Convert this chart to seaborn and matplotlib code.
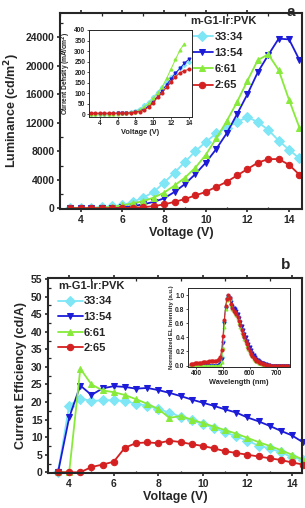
import numpy as np
import pandas as pd
import seaborn as sns
import matplotlib.pyplot as plt
from matplotlib.ticker import MultipleLocator

sns.set_style('ticks')
plt.rcParams['font.family'] = ['Liberation Sans', 'DejaVu Sans']
plt.rcParams['font.weight'] = 'bold'
plt.rcParams['axes.labelweight'] = 'bold'

# ================== data ==================
ratios = ['33:34', '13:54', '6:61', '2:65']
colors = ['#7fe6f6', '#1c1cd8', '#88ea3a', '#d42020']
markers = ['D', 'v', '^', 'o']

# panel a: luminance vs voltage
volt = np.arange(3.5, 14.51, 0.5)
lum_3334 = [50, 60, 80, 120, 250, 450, 900, 1500, 2300, 3600, 5000, 6500, 8000,
            9300, 10500, 11300, 12100, 12800, 12100, 11000, 9500, 8200, 7000]
lum_1354 = [20, 30, 40, 50, 80, 150, 300, 550, 900, 1400, 2300, 3400, 4800,
            6400, 8300, 10500, 13200, 16000, 19100, 21500, 23800, 23700, 20800]
lum_661 = [20, 40, 60, 100, 200, 400, 700, 1000, 1500, 2200, 3200, 4300, 5700,
           7500, 9800, 12200, 14900, 17900, 20800, 21600, 19400, 15200, 11300]
lum_265 = [10, 10, 15, 20, 25, 40, 80, 150, 300, 550, 900, 1300, 1800,
           2300, 3000, 3700, 4600, 5500, 6400, 6900, 6900, 6100, 4700]

# inset a: current density vs voltage
volt_j = np.arange(3.0, 14.01, 0.5)
j_3334 = [3, 3, 3, 3, 3, 4, 4, 5, 7, 11, 17, 27, 42, 60, 82, 106, 130, 155, 178, 198, 218, 235, 250]
j_1354 = [3, 3, 3, 3, 3, 3, 4, 4, 5, 7, 10, 16, 25, 40, 60, 85, 112, 140, 168, 195, 218, 242, 262]
j_661 = [2, 2, 2, 2, 2, 3, 3, 4, 6, 9, 13, 21, 35, 52, 75, 100, 130, 170, 215, 260, 305, 335]
j_265 = [5, 5, 5, 5, 5, 5, 5, 5, 6, 7, 9, 13, 20, 35, 55, 80, 103, 128, 153, 178, 197, 207, 213]

# panel b: current efficiency vs voltage
ce_3334 = [0, 19, 21, 20.3, 20.5, 20.5, 20.3, 19.5, 19, 18, 17, 15.8, 14.8,
           13.7, 12.6, 11.4, 10.2, 9, 7.6, 6.8, 5.7, 4.3, 3.6]
ce_1354 = [0, 15.6, 24.7, 22, 23.9, 24.5, 24.3, 23.8, 24, 23.4, 22.6, 21.7, 20.7,
           19.8, 18.9, 17.9, 17, 15.6, 14.5, 13.2, 11.8, 10.5, 8.5]
ce_661 = [0, 0, 29.5, 25, 23.3, 22.8, 22, 20.8, 19.5, 18, 15.5, 16, 15,
          14, 13, 12, 11, 9.8, 8.6, 7.5, 6.3, 5, 3.6]
ce_265 = [0, 0, 0, 1.5, 2.2, 3, 7, 8.3, 8.5, 8.3, 9, 8.6, 8,
          7.5, 6.8, 6, 5.5, 5, 4.5, 4, 3.5, 2.8, 2.2]

# inset b: normalized EL spectra (5 nm steps from 380 nm)
el_3334 = [0.0] * 21 + [0.01, 0.03, 0.12, 0.35, 0.62, 0.83, 0.95, 0.99, 0.95, 0.88,
                        0.83, 0.80, 0.78, 0.74, 0.70, 0.64, 0.58, 0.52, 0.46, 0.41,
                        0.36, 0.31, 0.26, 0.22, 0.18, 0.15, 0.12, 0.10, 0.08, 0.06,
                        0.05, 0.04, 0.03, 0.02, 0.02, 0.01, 0.01] + [0.0] * 16
el_1354 = [0.0] * 21 + [0.01, 0.02, 0.10, 0.32, 0.60, 0.82, 0.94, 0.98, 0.96, 0.90,
                        0.85, 0.82, 0.80, 0.77, 0.73, 0.68, 0.62, 0.56, 0.50, 0.45,
                        0.40, 0.35, 0.30, 0.26, 0.22, 0.18, 0.15, 0.12, 0.10, 0.08,
                        0.06, 0.05, 0.04, 0.03, 0.02, 0.02, 0.01, 0.01] + [0.0] * 15
el_661 = [0.0] * 21 + [0.0, 0.01, 0.05, 0.25, 0.55, 0.80, 0.93, 0.98, 0.94, 0.86,
                       0.80, 0.77, 0.74, 0.71, 0.67, 0.61, 0.55, 0.48, 0.43, 0.38,
                       0.33, 0.28, 0.23, 0.19, 0.16, 0.13, 0.10, 0.08, 0.06, 0.05,
                       0.04, 0.03, 0.02, 0.02, 0.01, 0.01] + [0.0] * 17
el_265 = [0.02, 0.02, 0.02, 0.03, 0.03, 0.03, 0.04, 0.04, 0.04, 0.05, 0.05, 0.05,
          0.05, 0.05, 0.06, 0.06, 0.06, 0.06, 0.07, 0.07, 0.08, 0.09, 0.12,
          0.22, 0.42, 0.65, 0.84, 0.95, 1.00, 0.96, 0.88, 0.81, 0.78, 0.76, 0.73,
          0.69, 0.63, 0.57, 0.50, 0.45, 0.40, 0.35, 0.30, 0.25, 0.21,
          0.17, 0.14, 0.11, 0.09, 0.07, 0.06, 0.05, 0.04, 0.03, 0.02, 0.02,
          0.01, 0.01, 0.01] + [0.0] * 15

lum = [lum_3334, lum_1354, lum_661, lum_265]
jd = [j_3334, j_1354, j_661, j_265]
ce = [ce_3334, ce_1354, ce_661, ce_265]
el = [el_3334, el_1354, el_661, el_265]


def style_axis(ax, size, lw):
    for s in ax.spines.values():
        s.set_linewidth(lw)
        s.set_visible(True)
    # major ticks outward, minor ticks inward (Origin style)
    ax.tick_params(axis='both', which='major', direction='out', length=2.5,
                   width=lw * 0.8, labelsize=size, pad=1.5, top=True)
    ax.tick_params(axis='both', which='minor', direction='in', length=1.8,
                   width=lw * 0.6, top=True)
    for t in ax.get_xticklabels() + ax.get_yticklabels():
        t.set_fontweight('bold')


def draw(ax, xs, ys_list, ms, lw, clip=True):
    for k in range(4):
        xv = xs[k] if isinstance(xs, list) else xs[:len(ys_list[k])]
        df = pd.DataFrame({'x': xv, 'y': ys_list[k]})
        sns.lineplot(data=df, x='x', y='y', ax=ax, color=colors[k],
                     marker=markers[k], markersize=ms, markeredgecolor=colors[k],
                     linewidth=lw, clip_on=clip, label=ratios[k])
    handles, labels = ax.get_legend_handles_labels()
    if ax.get_legend() is not None:
        ax.get_legend().remove()
    return handles, labels


fig = plt.figure(figsize=(3.05, 5.08), dpi=100)

# ---------------- panel a ----------------
ax1 = fig.add_axes([0.1967, 0.5886, 0.7934, 0.3858])
h, l = draw(ax1, volt, lum, 4.6, 1.3)
ax1.set_xlim(3.0, 14.62)
ax1.set_ylim(-100, 27400)
ax1.xaxis.set_major_locator(MultipleLocator(2))
ax1.xaxis.set_minor_locator(MultipleLocator(1))
ax1.yaxis.set_major_locator(MultipleLocator(4000))
ax1.yaxis.set_minor_locator(MultipleLocator(2000))
ax1.set_xlabel('Voltage (V)', fontsize=9, fontweight='bold', labelpad=2)
ax1.set_ylabel('Luminance (cd/m$^\\mathbf{2}$)', fontsize=9, fontweight='bold', labelpad=3)
style_axis(ax1, 7.5, 1.5)
ax1.legend(h, l, title='m-G1-Ir:PVK', loc='upper left',
           bbox_to_anchor=(0.54, 0.985), frameon=False, borderpad=0,
           borderaxespad=0, handlelength=2.0, handletextpad=0.15,
           labelspacing=0.55, alignment='left',
           prop={'size': 8, 'weight': 'bold'},
           title_fontproperties={'size': 8, 'weight': 'bold'})
fig.text(0.952, 0.99, 'a', fontsize=11, fontweight='bold', ha='center', va='top')

# inset a
ax1i = fig.add_axes([0.2918, 0.7697, 0.3377, 0.1713])
draw(ax1i, volt_j, jd, 2.2, 0.7)
ax1i.set_xlim(2.8, 14.35)
ax1i.set_ylim(-13, 400)
ax1i.xaxis.set_major_locator(MultipleLocator(2))
ax1i.yaxis.set_major_locator(MultipleLocator(50))
ax1i.set_xlabel('Voltage (V)', fontsize=5.3, fontweight='bold', labelpad=1)
ax1i.set_ylabel('Current Density (mA/cm$^\\mathbf{2}$)', fontsize=4.8,
                fontweight='bold', labelpad=1)
style_axis(ax1i, 4.8, 0.7)
ax1i.tick_params(which='both', length=1.5, pad=1, top=False)

# ---------------- panel b ----------------
ax2 = fig.add_axes([0.1574, 0.0689, 0.8328, 0.3839])
h, l = draw(ax2, volt, ce, 4.6, 1.3, clip=False)
ax2.set_xlim(3.05, 14.45)
ax2.set_ylim(-0.2, 55.3)
ax2.xaxis.set_major_locator(MultipleLocator(2))
ax2.xaxis.set_minor_locator(MultipleLocator(1))
ax2.yaxis.set_major_locator(MultipleLocator(5))
ax2.yaxis.set_minor_locator(MultipleLocator(2.5))
ax2.set_xlabel('Voltage (V)', fontsize=9, fontweight='bold', labelpad=2)
ax2.set_ylabel('Current Efficiency (cd/A)', fontsize=9, fontweight='bold', labelpad=3)
style_axis(ax2, 7.5, 1.5)
ax2.legend(h, l, title='m-G1-Ir:PVK', loc='upper left',
           bbox_to_anchor=(0.04, 0.985), frameon=False, borderpad=0,
           borderaxespad=0, handlelength=2.2, handletextpad=0.1,
           labelspacing=0.5, alignment='left',
           prop={'size': 8, 'weight': 'bold'},
           title_fontproperties={'size': 8, 'weight': 'bold'})
fig.text(0.935, 0.478, 'b', fontsize=11, fontweight='bold', ha='center', va='center')

# inset b
ax2i = fig.add_axes([0.6164, 0.2776, 0.3344, 0.1555])
wl = [np.arange(380, 380 + 5 * len(e), 5) for e in el]
draw(ax2i, wl, el, 2.2, 0.6)
ax2i.set_xlim(370, 750)
ax2i.set_ylim(-0.02, 1.1)
ax2i.xaxis.set_major_locator(MultipleLocator(100))
ax2i.yaxis.set_major_locator(MultipleLocator(0.2))
ax2i.set_xlabel('Wavelength (nm)', fontsize=5.3, fontweight='bold', labelpad=1)
ax2i.set_ylabel('Normalized EL Intensity (a.u.)', fontsize=4.3,
                fontweight='bold', labelpad=1)
style_axis(ax2i, 4.8, 0.7)
ax2i.tick_params(which='both', length=1.5, pad=1, top=False)

plt.savefig('out.png', dpi=100)
